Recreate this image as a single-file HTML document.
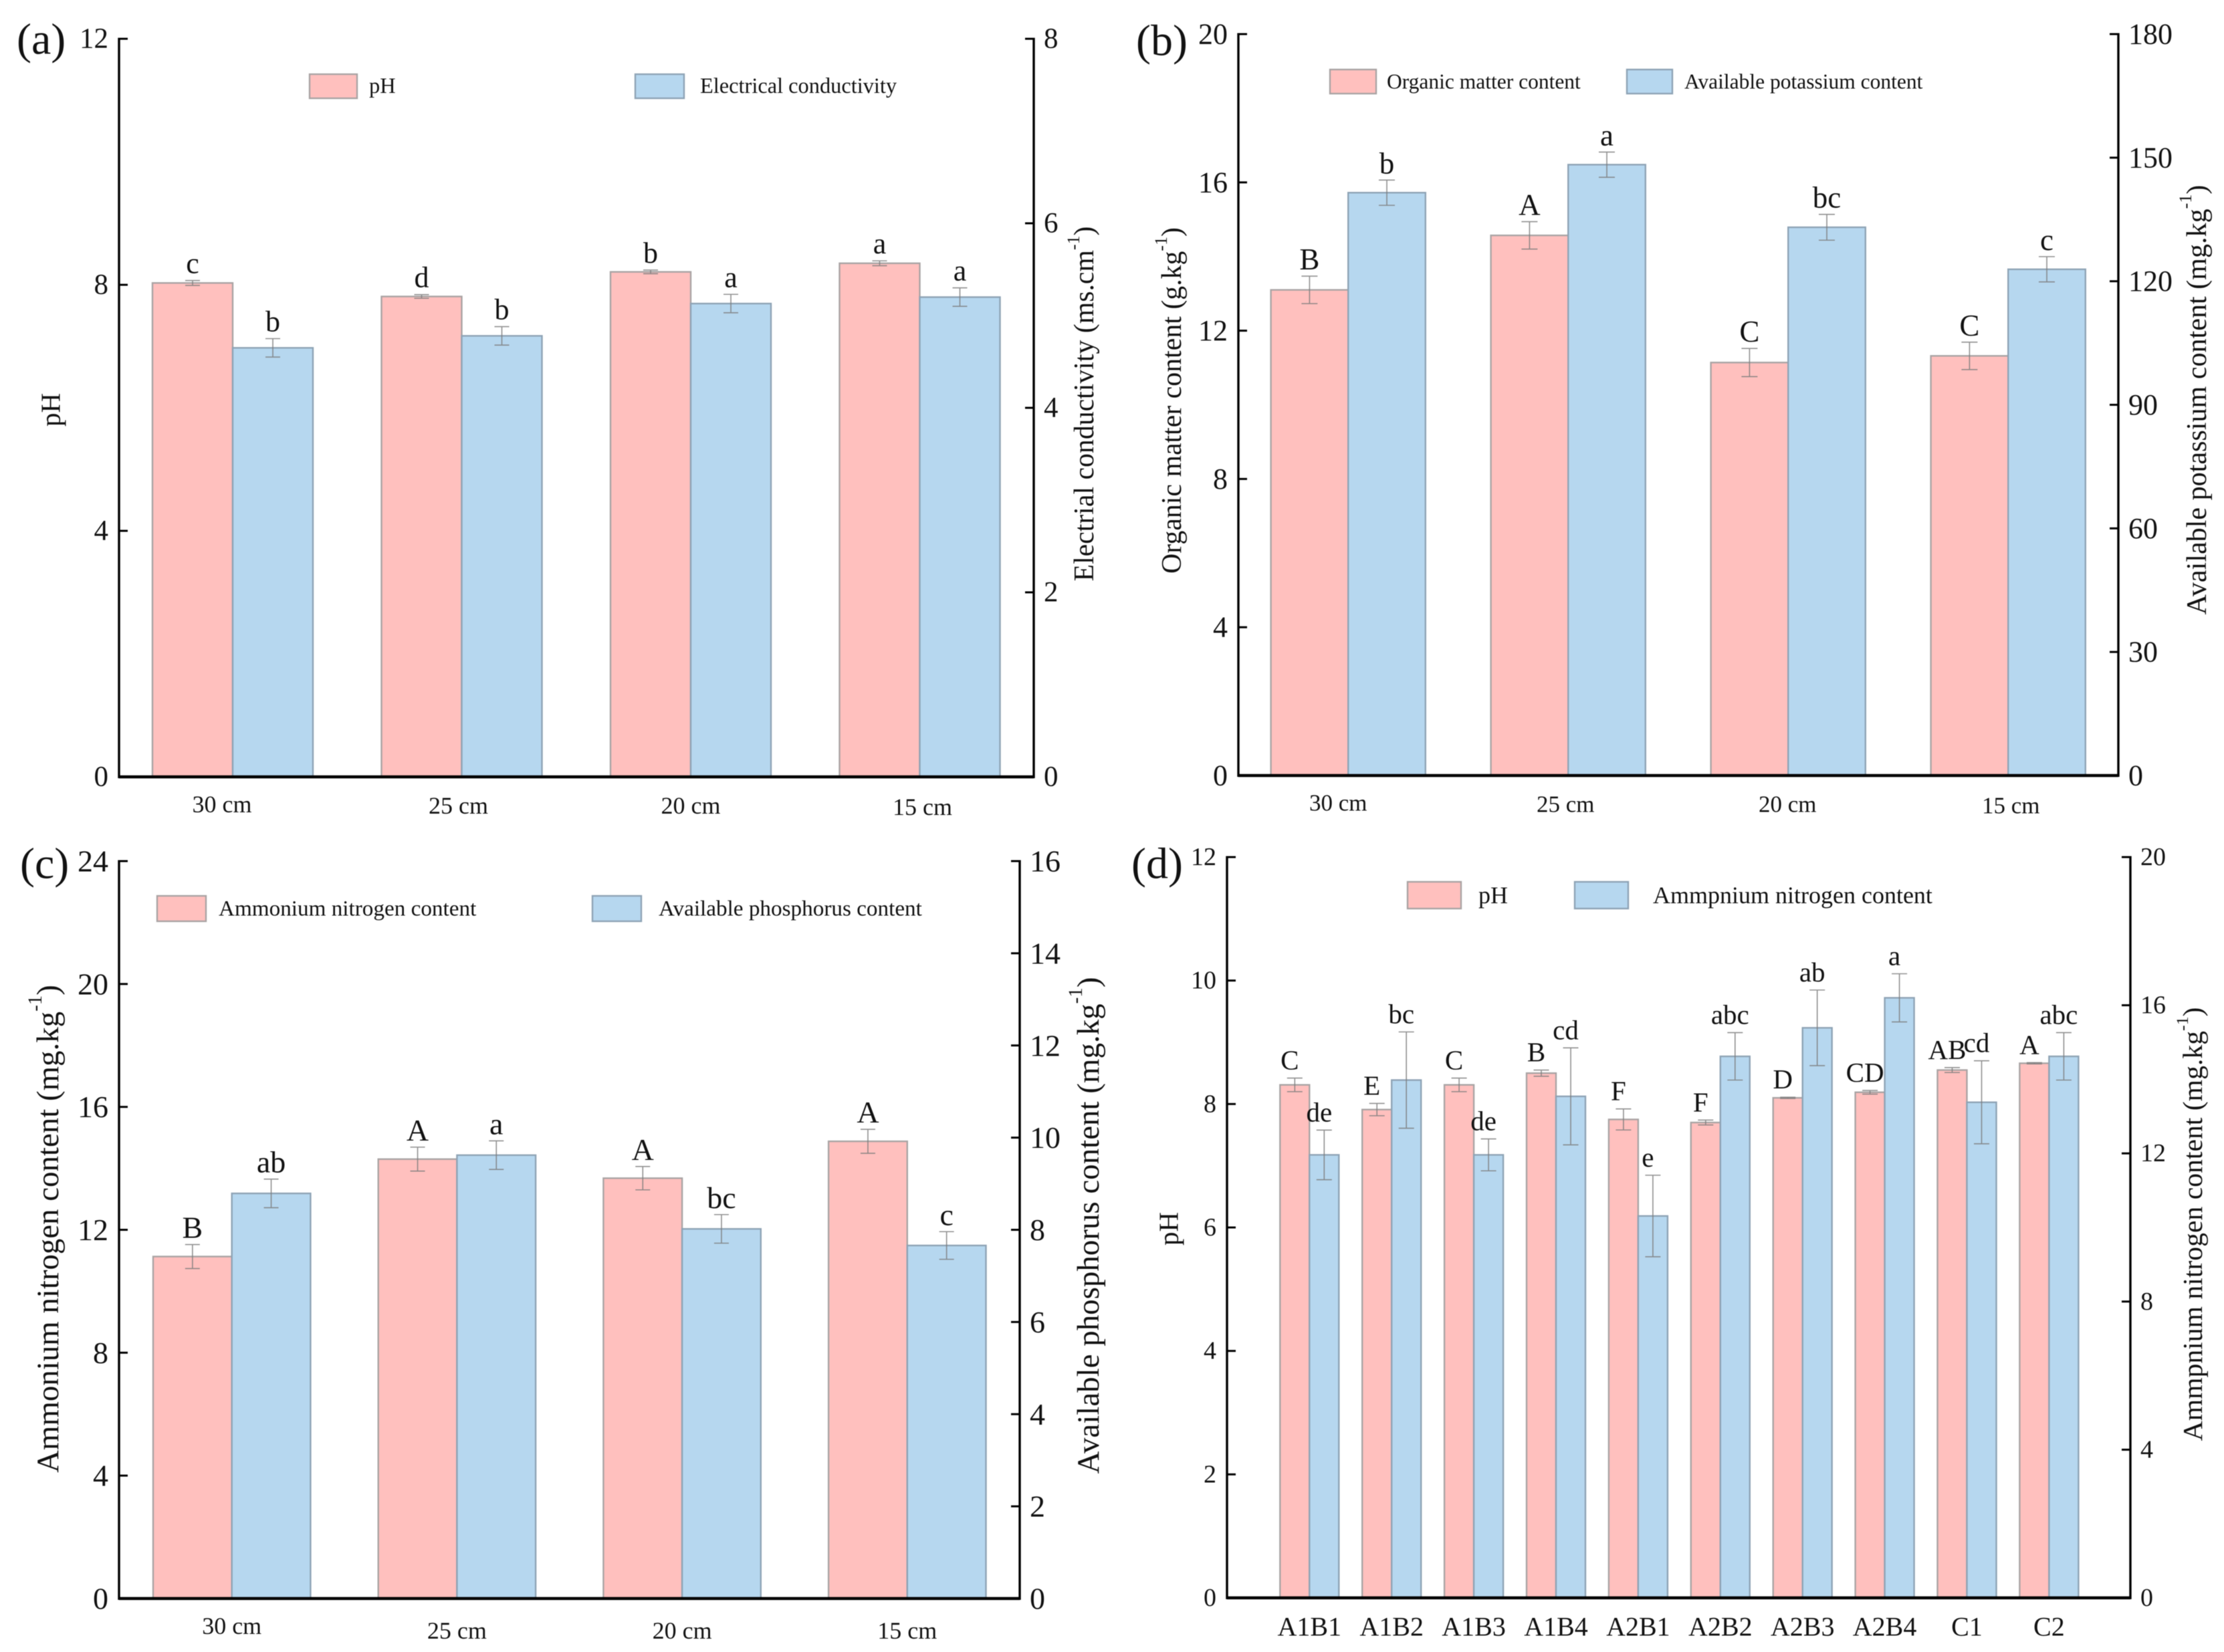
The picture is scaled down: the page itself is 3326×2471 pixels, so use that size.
<!DOCTYPE html>
<html lang="en">
<head>
<meta charset="utf-8">
<title>Soil properties bar charts</title>
<style>
html,body{margin:0;padding:0;background:#fff;}
svg{display:block;font-family:"Liberation Serif","Times New Roman",serif;filter:blur(0.6px);}
</style>
</head>
<body>
<svg id="figure" xmlns="http://www.w3.org/2000/svg" width="3326" height="2471" viewBox="0 0 3326 2471">
<rect x="0" y="0" width="3326" height="2471" fill="#ffffff"></rect>
<g id="chart-root"></g>
</svg>
<script>
// ---------- Panel (a) data ----------
const aCategories = ['30 cm', '25 cm', '20 cm', '15 cm'];
const aLeftValues = [8.03, 7.81, 8.21, 8.35];
const aLeftErrors = [0.04, 0.03, 0.03, 0.04];
const aLeftLetters = ['c', 'd', 'b', 'a'];
const aRightValues = [4.65, 4.78, 5.13, 5.20];
const aRightErrors = [0.10, 0.10, 0.10, 0.10];
const aRightLetters = ['b', 'b', 'a', 'a'];
const aLeftTicks = [0, 4, 8, 12];
const aRightTicks = [0, 2, 4, 6, 8];

// ---------- Panel (b) data ----------
const bCategories = ['30 cm', '25 cm', '20 cm', '15 cm'];
const bLeftValues = [13.1, 14.57, 11.14, 11.32];
const bLeftErrors = [0.37, 0.37, 0.38, 0.37];
const bLeftLetters = ['B', 'A', 'C', 'C'];
const bRightValues = [141.5, 148.3, 133.1, 122.9];
const bRightErrors = [3.07, 3.07, 3.13, 3.07];
const bRightLetters = ['b', 'a', 'bc', 'c'];
const bLeftTicks = [0, 4, 8, 12, 16, 20];
const bRightTicks = [0, 30, 60, 90, 120, 150, 180];

// ---------- Panel (c) data ----------
const cCategories = ['30 cm', '25 cm', '20 cm', '15 cm'];
const cLeftValues = [11.13, 14.3, 13.68, 14.88];
const cLeftErrors = [0.39, 0.39, 0.38, 0.39];
const cLeftLetters = ['B', 'A', 'A', 'A'];
const cRightValues = [8.79, 9.62, 8.02, 7.66];
const cRightErrors = [0.31, 0.31, 0.31, 0.30];
const cRightLetters = ['ab', 'a', 'bc', 'c'];
const cLeftTicks = [0, 4, 8, 12, 16, 20, 24];
const cRightTicks = [0, 2, 4, 6, 8, 10, 12, 14, 16];

// ---------- Panel (d) data ----------
const dCategories = ['A1B1', 'A1B2', 'A1B3', 'A1B4', 'A2B1', 'A2B2', 'A2B3', 'A2B4', 'C1', 'C2'];
const dLeftValues = [8.31, 7.91, 8.31, 8.50, 7.75, 7.70, 8.10, 8.19, 8.55, 8.66];
const dLeftErrors = [0.11, 0.10, 0.11, 0.05, 0.17, 0.04, 0.01, 0.03, 0.04, 0.01];
const dLeftLetters = ['C', 'E', 'C', 'B', 'F', 'F', 'D', 'CD', 'AB', 'A'];
const dRightValues = [11.96, 13.98, 11.96, 13.54, 10.31, 14.62, 15.39, 16.2, 13.38, 14.62];
const dRightErrors = [0.67, 1.30, 0.43, 1.31, 1.10, 0.64, 1.02, 0.65, 1.12, 0.64];
const dRightLetters = ['de', 'bc', 'de', 'cd', 'e', 'abc', 'ab', 'a', 'cd', 'abc'];
const dLeftTicks = [0, 2, 4, 6, 8, 10, 12];
const dRightTicks = [0, 4, 8, 12, 16, 20];

const SVG_NS = 'http://www.w3.org/2000/svg';
const PINK = '#FFC0BE';
const BLUE = '#B6D7EF';
const PINK_EDGE = '#a9a4a4';
const BLUE_EDGE = '#8ea3b5';
const root = document.getElementById('chart-root');

function make(parent, tag, attrs) {
  const el = document.createElementNS(SVG_NS, tag);
  for (const key in attrs) el.setAttribute(key, attrs[key]);
  parent.appendChild(el);
  return el;
}

function drawRotatedTitle(parent, spec, name) {
  const t = make(parent, 'text', {
    transform: 'translate(' + spec.x + ' ' + spec.y + ') rotate(-90)',
    'text-anchor': 'middle', 'dominant-baseline': 'central',
    'font-size': 44, fill: '#111'
  });
  
  
  if (spec.sup) {
    const main = make(t, 'tspan', {});
    main.textContent = spec.text + ' (' + spec.unit;
    const sup = make(t, 'tspan', { 'font-size': '0.62em', dy: '-0.65em' });
    sup.textContent = spec.sup;
    const close = make(t, 'tspan', { dy: '0.4em' });
    close.textContent = ')';
  } else {
    t.textContent = spec.text;
  }
  const measured = t.getComputedTextLength();
  t.setAttribute('font-size', (44 * spec.length / measured).toFixed(2));
}

function drawPanel(p) {
  const g = make(root, 'g', {});
  
  

  const yLeft = v => p.bottom - (v / p.leftTicks[p.leftTicks.length - 1]) * (p.bottom - p.top);
  const yRight = v => p.bottom - (v / p.rightTicks[p.rightTicks.length - 1]) * (p.bottom - p.top);
  const groupX = i => p.groupStart + i * p.groupStep;

  function drawSeries(values, errors, letters, yScale, fill, edge, offset, seriesName) {
    values.forEach((v, i) => {
      const x = groupX(i) + offset * p.barWidth;
      const top = yScale(v);
      const bar = make(g, 'rect', {
        x: x, y: top, width: p.barWidth, height: p.bottom - top,
        fill: fill, stroke: edge, 'stroke-width': 2.4
      });
      
      
    });
    values.forEach((v, i) => {
      const cx = groupX(i) + (offset + 0.5) * p.barWidth;
      const hi = yScale(v + errors[i]);
      const lo = yScale(v - errors[i]);
      const err = make(g, 'path', {
        d: 'M' + (cx - p.capHalf) + ' ' + hi + 'H' + (cx + p.capHalf) +
           'M' + cx + ' ' + hi + 'V' + lo +
           'M' + (cx - p.capHalf) + ' ' + lo + 'H' + (cx + p.capHalf),
        fill: 'none', stroke: '#7d7d7d', 'stroke-width': 1.6, 'stroke-opacity': 0.85
      });
      
      
      const letter = make(g, 'text', {
        x: cx + p.letterNudge, y: hi - p.letterGap, 'text-anchor': 'middle',
        'font-size': p.letterSize, fill: '#111'
      });
      letter.textContent = letters[i];
      
      
    });
  }
  drawSeries(p.leftValues, p.leftErrors, p.leftLetters, yLeft, PINK, PINK_EDGE, 0, 'left');
  drawSeries(p.rightValues, p.rightErrors, p.rightLetters, yRight, BLUE, BLUE_EDGE, 1, 'right');

  // axes
  const leftAxis = make(g, 'line', { x1: p.left, x2: p.left, y1: p.top - 1.5, y2: p.bottom + 2, stroke: '#000', 'stroke-width': 3.4 });
  
  
  const rightAxis = make(g, 'line', { x1: p.right, x2: p.right, y1: p.top - 1.5, y2: p.bottom + 2, stroke: '#000', 'stroke-width': 3.4 });
  
  
  const xAxis = make(g, 'line', { x1: p.left, x2: p.right, y1: p.bottom, y2: p.bottom, stroke: '#000', 'stroke-width': 4.4 });
  
  

  // ticks and tick labels
  p.leftTicks.forEach(v => {
    const y = yLeft(v);
    const tick = make(g, 'line', { x1: p.left, x2: p.left + 13, y1: y, y2: y, stroke: '#000', 'stroke-width': 3 });
    
    
    const label = make(g, 'text', { x: p.left - 16, y: y, 'text-anchor': 'end', 'dominant-baseline': 'central', 'font-size': p.tickSize, fill: '#111' });
    label.textContent = v;
    
    
  });
  p.rightTicks.forEach(v => {
    const y = yRight(v);
    const tick = make(g, 'line', { x1: p.right, x2: p.right - 13, y1: y, y2: y, stroke: '#000', 'stroke-width': 3 });
    
    
    const label = make(g, 'text', { x: p.right + 15, y: y, 'text-anchor': 'start', 'dominant-baseline': 'central', 'font-size': p.tickSize, fill: '#111' });
    label.textContent = v;
    
    
  });

  // category labels
  p.categories.forEach((c, i) => {
    const nudge = p.catNudge[i] || [0, 0];
    const label = make(g, 'text', {
      x: groupX(i) + p.barWidth + nudge[0], y: p.catY + nudge[1],
      'text-anchor': 'middle', 'dominant-baseline': 'central',
      'font-size': p.catSize, fill: '#111'
    });
    label.textContent = c;
    
    
  });

  // legend
  p.legend.forEach((entry, i) => {
    const swatch = make(g, 'rect', {
      x: entry.sx, y: p.legendTop, width: entry.sw, height: p.legendHeight,
      fill: i === 0 ? PINK : BLUE, stroke: i === 0 ? PINK_EDGE : BLUE_EDGE, 'stroke-width': 2.4
    });
    
    
    const label = make(g, 'text', {
      x: entry.tx, y: p.legendTop + p.legendHeight / 2, 'dominant-baseline': 'central',
      'font-size': p.legendSize, fill: '#111'
    });
    label.textContent = entry.text;
    
    
  });

  drawRotatedTitle(g, p.leftTitle, 'left-y-axis-title');
  drawRotatedTitle(g, p.rightTitle, 'right-y-axis-title');

  const tag = make(g, 'text', { x: p.tagX, y: p.tagY, 'dominant-baseline': 'central', 'font-size': 66, fill: '#111' });
  tag.textContent = '(' + p.id + ')';
  
  
}

drawPanel({
  id: 'a', categories: aCategories,
  leftValues: aLeftValues, leftErrors: aLeftErrors, leftLetters: aLeftLetters,
  rightValues: aRightValues, rightErrors: aRightErrors, rightLetters: aRightLetters,
  leftTicks: aLeftTicks, rightTicks: aRightTicks,
  left: 178, right: 1546, top: 58, bottom: 1162,
  groupStart: 228, groupStep: 342.5, barWidth: 120, capHalf: 11,
  letterGap: 11, letterNudge: 0, letterSize: 44, tickSize: 43,
  catY: 1203, catSize: 36, catNudge: [[-16, 0], [-5, 2], [0, 2], [4, 4]],
  legendTop: 111, legendHeight: 36, legendSize: 32.4,
  legend: [
    { sx: 463, sw: 71, tx: 552, text: 'pH' },
    { sx: 950, sw: 73, tx: 1047, text: 'Electrical conductivity' }
  ],
  leftTitle: { text: 'pH', x: 76, y: 613, length: 50 },
  rightTitle: { text: 'Electrial conductivity', unit: 'ms.cm', sup: '-1', x: 1622, y: 604, length: 531 },
  tagX: 25, tagY: 59
});

drawPanel({
  id: 'b', categories: bCategories,
  leftValues: bLeftValues, leftErrors: bLeftErrors, leftLetters: bLeftLetters,
  rightValues: bRightValues, rightErrors: bRightErrors, rightLetters: bRightLetters,
  leftTicks: bLeftTicks, rightTicks: bRightTicks,
  left: 1852, right: 3168, top: 51, bottom: 1160,
  groupStart: 1900.6, groupStep: 329, barWidth: 115.6, capHalf: 12,
  letterGap: 10, letterNudge: 0, letterSize: 45, tickSize: 44,
  catY: 1201, catSize: 35, catNudge: [[-15, 0], [-4, 2], [-1, 2], [4, 4]],
  legendTop: 104, legendHeight: 36, legendSize: 31.5,
  legend: [
    { sx: 1989, sw: 69, tx: 2074, text: 'Organic matter content' },
    { sx: 2433, sw: 68, tx: 2519, text: 'Available potassium content' }
  ],
  leftTitle: { text: 'Organic matter content', unit: 'g.kg', sup: '-1', x: 1753, y: 599, length: 518 },
  rightTitle: { text: 'Available potassium content', unit: 'mg.kg', sup: '-1', x: 3285, y: 598, length: 643 },
  tagX: 1699, tagY: 61
});

drawPanel({
  id: 'c', categories: cCategories,
  leftValues: cLeftValues, leftErrors: cLeftErrors, leftLetters: cLeftLetters,
  rightValues: cRightValues, rightErrors: cRightErrors, rightLetters: cRightLetters,
  leftTicks: cLeftTicks, rightTicks: cRightTicks,
  left: 178, right: 1525, top: 1288, bottom: 2391,
  groupStart: 229, groupStep: 336.7, barWidth: 117.7, capHalf: 11,
  letterGap: 10, letterNudge: 0, letterSize: 46, tickSize: 46,
  catY: 2439, catSize: 36, catNudge: [[0, -7], [0, 0], [0, 0], [0, 0]],
  legendTop: 1340, legendHeight: 38, legendSize: 33.2,
  legend: [
    { sx: 235, sw: 73, tx: 327, text: 'Ammonium nitrogen content' },
    { sx: 886, sw: 73, tx: 985, text: 'Available phosphorus content' }
  ],
  leftTitle: { text: 'Ammonium nitrogen content', unit: 'mg.kg', sup: '-1', x: 72, y: 1838, length: 730 },
  rightTitle: { text: 'Available phosphorus content', unit: 'mg.kg', sup: '-1', x: 1628, y: 1833, length: 743 },
  tagX: 30, tagY: 1292
});

drawPanel({
  id: 'd', categories: dCategories,
  leftValues: dLeftValues, leftErrors: dLeftErrors, leftLetters: dLeftLetters,
  rightValues: dRightValues, rightErrors: dRightErrors, rightLetters: dRightLetters,
  leftTicks: dLeftTicks, rightTicks: dRightTicks,
  left: 1835, right: 3186, top: 1282, bottom: 2390,
  groupStart: 1914.3, groupStep: 122.9, barWidth: 44, capHalf: 11.5,
  letterGap: 13, letterNudge: -7.5, letterSize: 41, tickSize: 38,
  catY: 2433, catSize: 40, catNudge: [],
  legendTop: 1319, legendHeight: 40, legendSize: 36,
  legend: [
    { sx: 2105, sw: 80, tx: 2211, text: 'pH' },
    { sx: 2355, sw: 80, tx: 2472, text: 'Ammpnium nitrogen content' }
  ],
  leftTitle: { text: 'pH', x: 1748, y: 1838, length: 50 },
  rightTitle: { text: 'Ammpnium nitrogen content', unit: 'mg.kg', sup: '-1', x: 3280, y: 1831, length: 649 },
  tagX: 1692, tagY: 1292
});
</script>
</body>
</html>
